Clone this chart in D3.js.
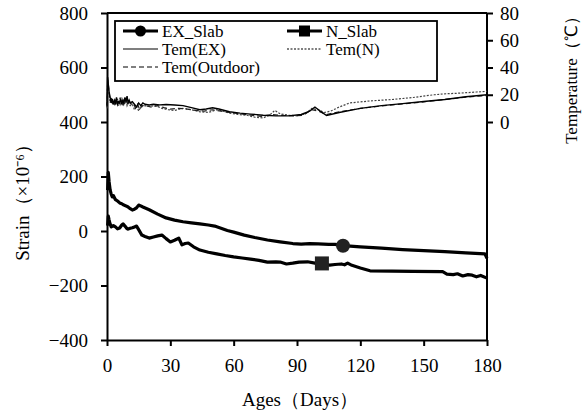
<!DOCTYPE html>
<html>
<head>
<meta charset="utf-8">
<script src="https://cdn.jsdelivr.net/npm/d3@7"></script>
<style>
  body { margin: 0; background: #fff; }
  svg text { font-family: "Liberation Serif", "Times New Roman", serif; fill: #000; }
</style>
</head>
<body>
<svg id="chart" width="588" height="418"></svg>
<script>
// ---------------------------------------------------------------------------
// Data: [day, value]
// ---------------------------------------------------------------------------

const exSlab = [
  [0.3, 150], [0.6, 215], [1, 180], [1.5, 150], [2, 135], [2.5, 125], [3, 130],
  [4, 115], [5, 110], [6, 103], [7, 100], [8, 95], [9, 92], [10, 88], [11, 82],
  [12, 77], [13, 80], [14, 85], [15, 95], [16, 92], [17, 88], [20, 78], [24, 62],
  [28, 48], [32, 40], [36, 34], [40, 30], [44, 26], [48, 22], [51, 18], [54, 10],
  [57, 2], [60, -4], [65, -15], [70, -24], [76, -33], [82, -40], [88, -46],
  [92, -48], [96, -46], [100, -47], [105, -49], [108, -49], [112, -54],
  [120, -58], [130, -63], [140, -68], [150, -72], [160, -76], [170, -80],
  [179, -84], [180, -100]
];

const nSlab = [
  [0.3, 20], [0.6, 55], [1, 40], [1.5, 25], [2, 15], [3, 20], [4, 15], [5, 8],
  [6, 11], [7, 22], [7.6, 26], [8.5, 18], [9.5, 8], [10, 7], [11, 10], [12, 12],
  [13, 15], [14, 18], [15, 5], [16.5, -15], [18, -20], [20, -26], [22, -22],
  [24, -18], [26, -15], [28, -28], [30, -40], [32, -34], [34, -26], [35.5, -51],
  [37, -46], [38.5, -44], [41, -58], [44, -70], [48, -78], [52, -84], [56, -90],
  [60, -95], [64, -99], [68, -103], [72, -108], [76, -114], [80, -113],
  [82, -114], [85, -121], [88, -118], [91, -114], [95, -113], [98.5, -118],
  [102, -121], [105.5, -125], [108, -123], [111, -121], [112.5, -124],
  [114, -118], [116, -126], [120, -136], [124.6, -146], [135, -147],
  [145, -148], [159, -149], [161, -158], [164, -160], [166, -157],
  [168.5, -165], [171, -160], [173, -162], [175, -168], [177, -163], [180, -173]
];

const temEX = [
  [0, 12], [0.3, 33], [0.6, 28], [1, 22], [1.5, 18], [2, 14], [2.5, 17], [3, 13],
  [3.5, 16], [4, 14], [4.5, 18], [5, 13], [5.5, 15], [6, 14], [6.5, 17], [7, 13],
  [7.5, 16], [8, 14], [8.5, 18], [9, 15], [9.5, 19], [10, 14], [10.5, 16],
  [11, 14], [12, 15], [13, 13], [14, 11], [15, 14], [16, 12], [17, 14], [18, 13],
  [20, 12.5], [22, 13], [25, 12.6], [28, 12.8], [32, 12.5], [36, 12], [40, 10.5],
  [44, 9], [47, 9.5], [50, 10.5], [53, 9.5], [58, 7.5], [63, 6.5], [68, 5.8],
  [74, 5], [80, 4.5], [86, 4.5], [92, 5.5], [96, 8], [98.5, 11], [101, 8],
  [104, 4.8], [110, 7], [120, 10], [130, 12], [140, 13.5], [150, 15],
  [160, 16.5], [170, 18.5], [180, 20]
];

const temN = [
  [0, 10], [0.3, 30], [0.7, 24], [1, 19], [1.5, 14], [2, 17], [2.5, 13], [3, 15],
  [3.5, 12], [4, 16], [4.5, 13], [5, 17], [5.5, 12], [6, 15], [6.5, 13], [7, 18],
  [7.5, 12], [8, 15], [8.5, 13], [9, 16], [9.5, 12], [10, 14], [11, 12], [12, 13],
  [13, 9], [14, 12], [15, 8], [16, 11], [18, 12], [20, 11.5], [23, 12], [26, 10],
  [29, 9], [32, 8.5], [36, 10], [40, 9], [44, 7.5], [48, 7], [52, 9], [55, 8],
  [58, 6.5], [62, 5.5], [66, 5], [70, 3.5], [74, 3], [77, 5], [79.5, 8.5],
  [82, 6], [86, 5], [90, 4.5], [94, 6], [97, 10], [100, 9], [103, 7], [106, 8],
  [110, 11], [115, 14], [125, 15.5], [135, 16.5], [145, 18], [155, 20],
  [160, 20.7], [165, 21], [170, 21.5], [175, 22], [180, 22.5]
];

const temOutdoor = [
  [0, 11], [0.4, 31], [0.8, 25], [1.2, 19], [1.7, 15], [2.2, 18], [2.7, 14],
  [3.2, 16], [3.7, 13], [4.2, 17], [4.7, 14], [5.2, 16], [5.7, 13], [6.2, 18],
  [6.7, 14], [7.2, 15], [7.7, 13], [8.2, 17], [8.7, 14], [9.2, 16], [9.7, 13],
  [10.5, 15], [11.5, 13], [12.5, 14], [13.5, 10], [14.5, 13], [15.5, 9],
  [16.5, 12], [18, 12], [21, 11], [24, 12], [27, 10.5], [30, 9.5], [34, 10],
  [38, 9.5], [42, 8.5], [46, 8], [50, 9], [54, 8], [58, 7], [63, 6], [68, 5],
  [73, 4.2], [78, 5.5], [82, 5], [88, 4.5], [93, 5], [97, 9], [100, 8],
  [104, 5.5], [110, 7.5], [120, 10], [130, 11.8], [140, 13.2], [150, 14.8],
  [160, 16.5], [170, 18.2], [180, 19.5]
];

// marker positions on the slab curves
const exMarker = [111.8, -54];
const nMarker = [101.8, -119];

const xTicks = [0, 30, 60, 90, 120, 150, 180];
const yTicks = [-400, -200, 0, 200, 400, 600, 800];
const tTicks = [0, 20, 40, 60, 80];

// ---------------------------------------------------------------------------
// Layout
// ---------------------------------------------------------------------------

const plot = { left: 107, right: 487, top: 13, bottom: 340 };

const svg = d3.select("#chart");

const x = d3.scaleLinear().domain([0, 180]).range([plot.left, plot.right]);
const y = d3.scaleLinear().domain([-400, 800]).range([plot.bottom, plot.top]);
const yT = d3.scaleLinear().domain([-160, 80]).range([plot.bottom, plot.top]);

// ---------------------------------------------------------------------------
// Axes
// ---------------------------------------------------------------------------

function styleAxis(g) {
  g.selectAll("path").attr("stroke", "#000").attr("stroke-width", 2);
  g.selectAll("line").attr("stroke", "#000").attr("stroke-width", 2);
  g.selectAll("text").attr("font-size", 19).attr("font-family", "Liberation Serif");
}

svg.append("g")
  .attr("transform", `translate(0,${plot.bottom})`)
  .call(d3.axisBottom(x).tickValues(xTicks).tickSize(6).tickPadding(13).tickSizeOuter(0))
  .call(styleAxis);

svg.append("g")
  .attr("transform", `translate(${plot.left},0)`)
  .call(d3.axisLeft(y).tickValues(yTicks).tickSize(6).tickPadding(13).tickSizeOuter(0))
  .call(styleAxis);

// right axis line spans the full height, ticks only 0..80
svg.append("line")
  .attr("x1", plot.right).attr("x2", plot.right)
  .attr("y1", plot.top).attr("y2", plot.bottom)
  .attr("stroke", "#000").attr("stroke-width", 2);

svg.append("g")
  .attr("transform", `translate(${plot.right},0)`)
  .call(d3.axisRight(yT).tickValues(tTicks).tickSize(6).tickPadding(7).tickSizeOuter(0))
  .call(g => g.select(".domain").remove())
  .call(styleAxis);

// top frame line
svg.append("line")
  .attr("x1", plot.left).attr("x2", plot.right)
  .attr("y1", plot.top).attr("y2", plot.top)
  .attr("stroke", "#000").attr("stroke-width", 2);

// axis titles
svg.append("text")
  .attr("x", 300).attr("y", 406)
  .attr("text-anchor", "middle").attr("font-size", 19)
  .text("Ages（Days）");

svg.append("text")
  .attr("transform", "translate(29,198) rotate(-90)")
  .attr("text-anchor", "middle").attr("font-size", 19)
  .text("Strain（×10⁻⁶）");

svg.append("text")
  .attr("transform", "translate(577,76) rotate(-90)")
  .attr("text-anchor", "middle").attr("font-size", 17)
  .text("Temperature（℃）");

// ---------------------------------------------------------------------------
// Lines
// ---------------------------------------------------------------------------

const strainLine = d3.line().x(d => x(d[0])).y(d => y(d[1]));
const tempLine = d3.line().x(d => x(d[0])).y(d => yT(d[1]));

const plotArea = svg.append("g");

plotArea.append("path").datum(temN)
  .attr("d", tempLine).attr("fill", "none")
  .attr("stroke", "#444").attr("stroke-width", 1.2).attr("stroke-dasharray", "2,1.5");

plotArea.append("path").datum(temOutdoor)
  .attr("d", tempLine).attr("fill", "none")
  .attr("stroke", "#222").attr("stroke-width", 1.2).attr("stroke-dasharray", "5,3");

plotArea.append("path").datum(temEX)
  .attr("d", tempLine).attr("fill", "none")
  .attr("stroke", "#000").attr("stroke-width", 1.4);

plotArea.append("path").datum(exSlab)
  .attr("d", strainLine).attr("fill", "none")
  .attr("stroke", "#000").attr("stroke-width", 3.2).attr("stroke-linejoin", "round");

plotArea.append("path").datum(nSlab)
  .attr("d", strainLine).attr("fill", "none")
  .attr("stroke", "#000").attr("stroke-width", 3.2).attr("stroke-linejoin", "round");

plotArea.append("circle")
  .attr("cx", x(exMarker[0])).attr("cy", y(exMarker[1])).attr("r", 7)
  .attr("fill", "#222");

plotArea.append("rect")
  .attr("x", x(nMarker[0]) - 7).attr("y", y(nMarker[1]) - 7)
  .attr("width", 14).attr("height", 14)
  .attr("fill", "#222");

// ---------------------------------------------------------------------------
// Legend
// ---------------------------------------------------------------------------

const legend = svg.append("g");

legend.append("rect")
  .attr("x", 115).attr("y", 21).attr("width", 322).attr("height", 60)
  .attr("fill", "#fff").attr("stroke", "#000").attr("stroke-width", 1.8);

const legendItems = [
  { label: "EX_Slab", col: 0, row: 0, width: 3, dash: null, marker: "circle" },
  { label: "N_Slab", col: 1, row: 0, width: 3, dash: null, marker: "square" },
  { label: "Tem(EX)", col: 0, row: 1, width: 1.2, dash: null },
  { label: "Tem(N)", col: 1, row: 1, width: 1.2, dash: "2,1.5" },
  { label: "Tem(Outdoor)", col: 0, row: 2, width: 1.2, dash: "5,3" }
];

const colX = [123, 287];
const rowY = [31, 49, 67];

legendItems.forEach(item => {
  const x0 = colX[item.col];
  const yy = rowY[item.row];
  legend.append("line")
    .attr("x1", x0).attr("x2", x0 + 35)
    .attr("y1", yy).attr("y2", yy)
    .attr("stroke", "#000").attr("stroke-width", item.width)
    .attr("stroke-dasharray", item.dash);
  if (item.marker === "circle") {
    legend.append("circle").attr("cx", x0 + 17.5).attr("cy", yy).attr("r", 5.5).attr("fill", "#000");
  } else if (item.marker === "square") {
    legend.append("rect").attr("x", x0 + 12).attr("y", yy - 5.5)
      .attr("width", 11).attr("height", 11).attr("fill", "#000");
  }
  legend.append("text")
    .attr("x", x0 + 39).attr("y", yy + 6)
    .attr("font-size", 17)
    .text(item.label);
});
</script>
</body>
</html>
